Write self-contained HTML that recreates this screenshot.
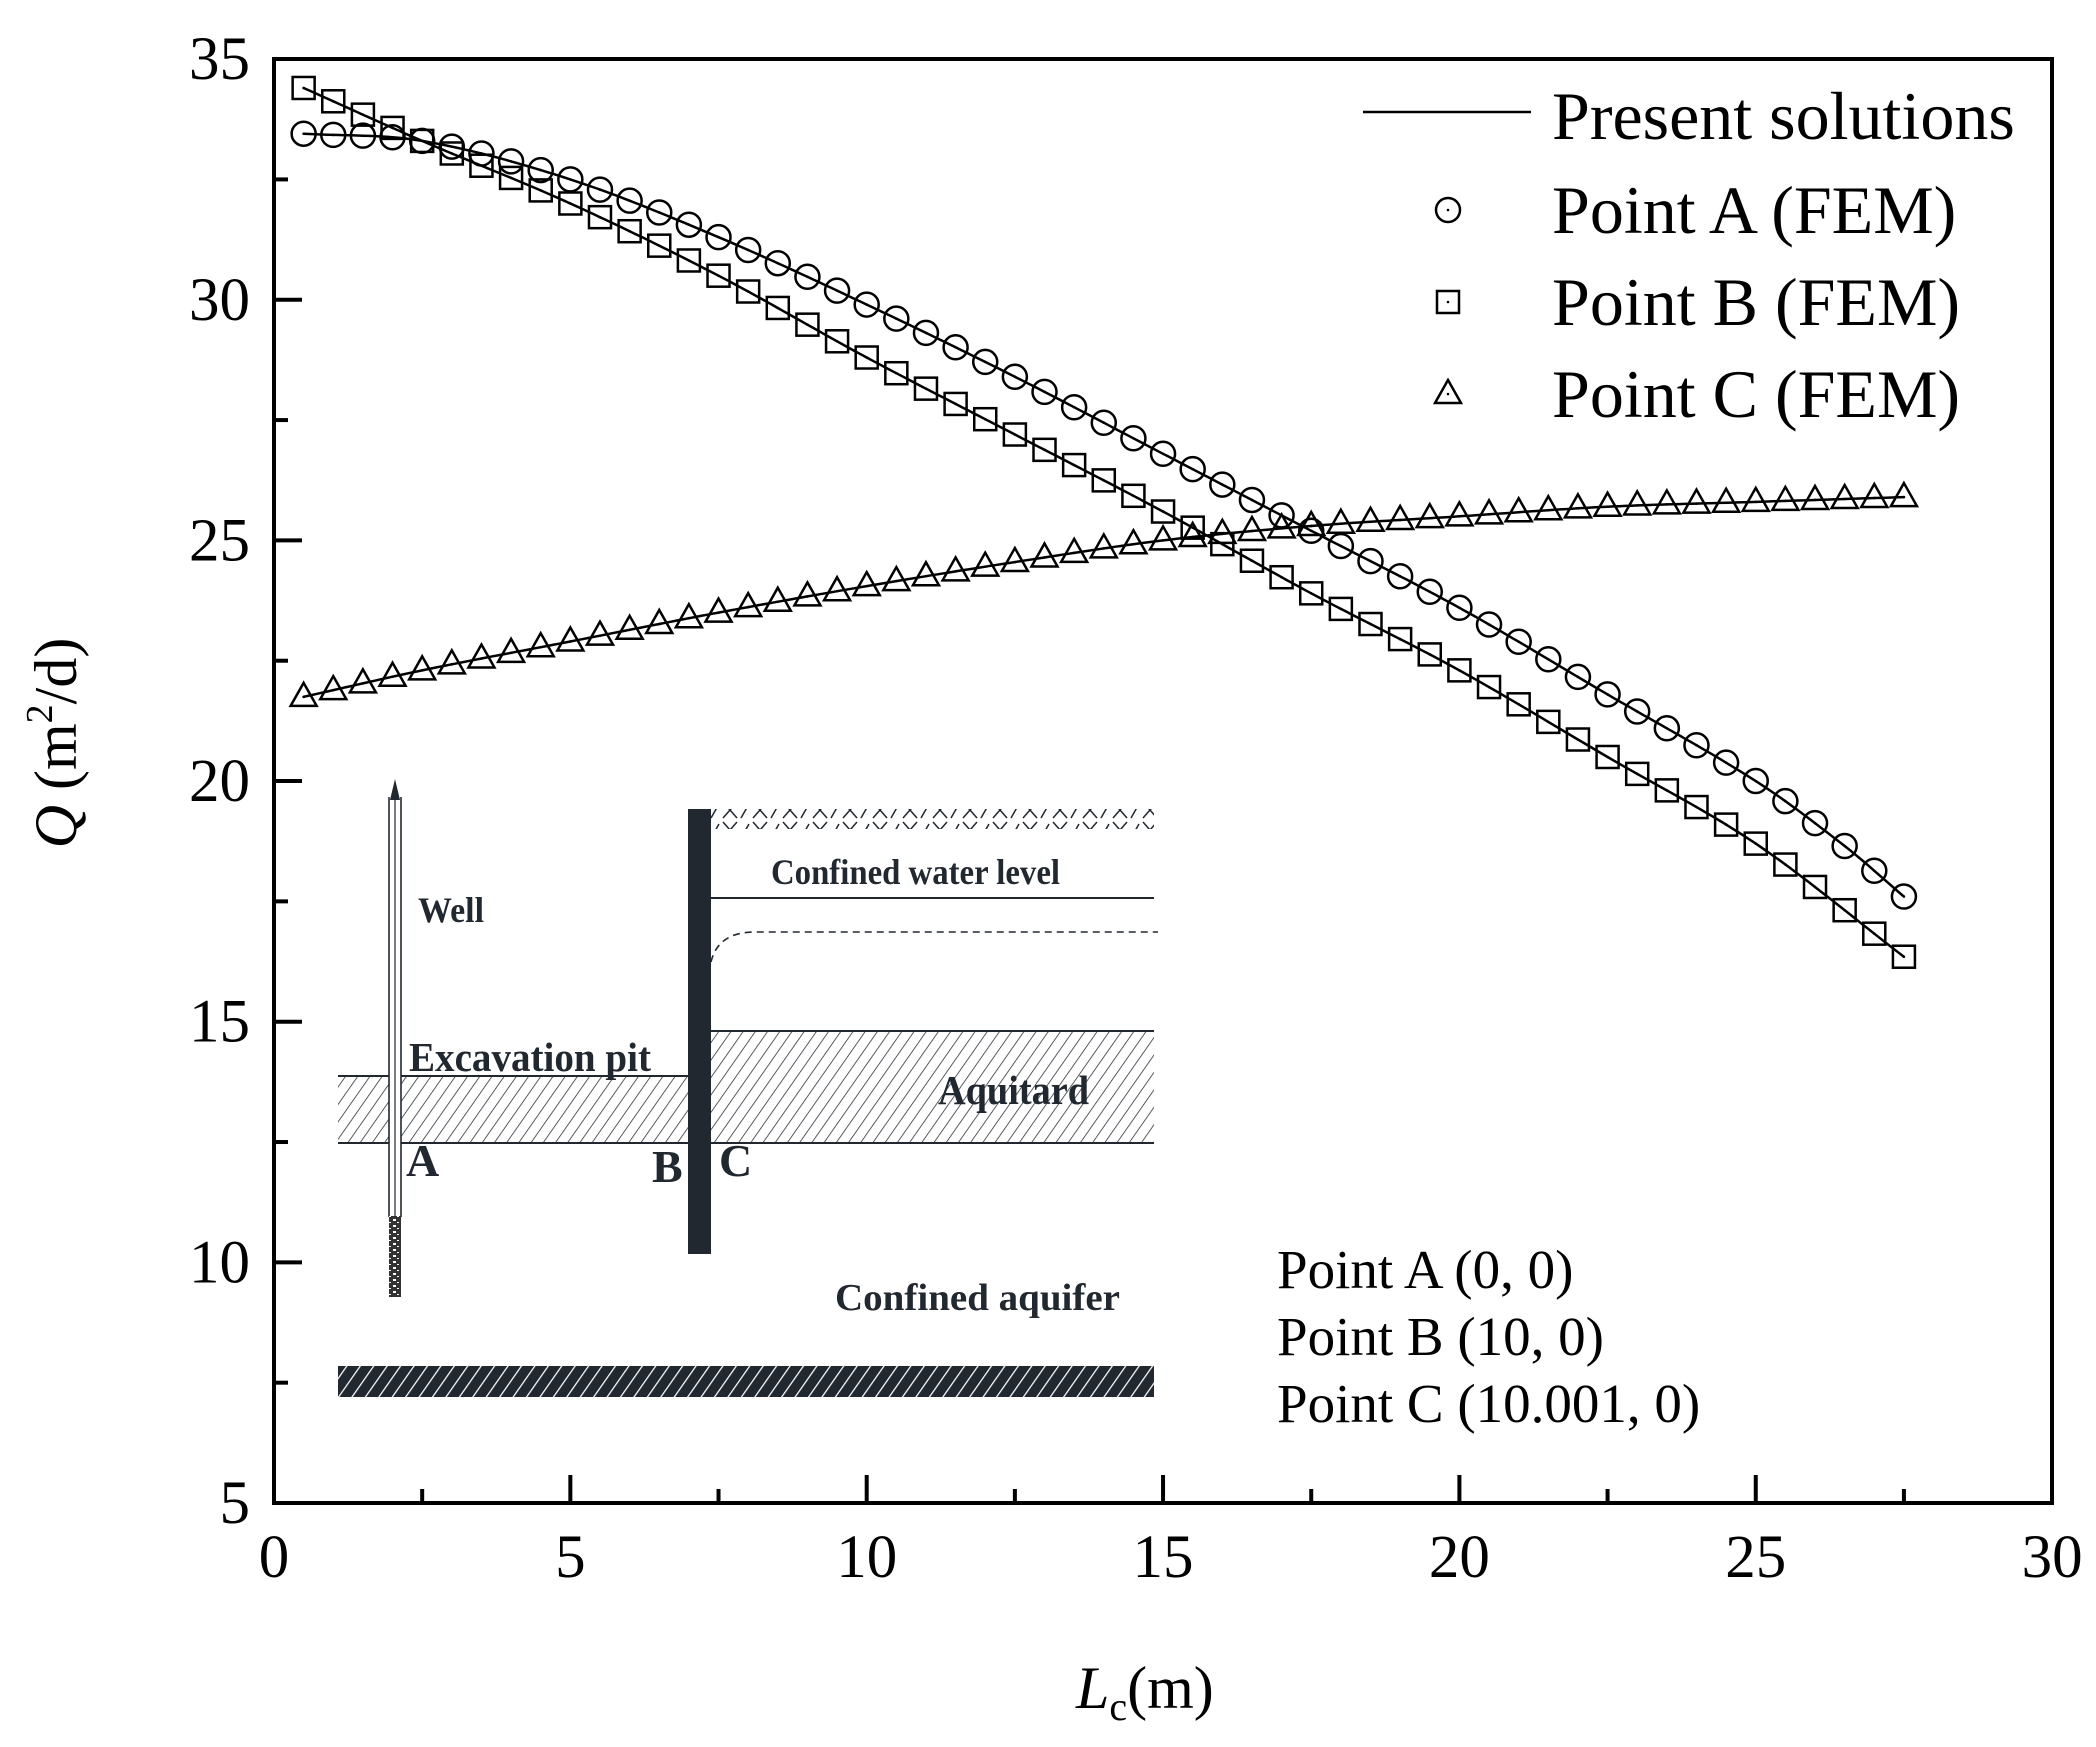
<!DOCTYPE html>
<html><head><meta charset="utf-8"><style>
html,body{margin:0;padding:0;background:#fff;}
svg{display:block;}
text{font-family:"Liberation Serif",serif;fill:#000;}
.b{font-weight:bold;fill:#222830;}
</style></head><body>
<svg id="s" width="2096" height="1747" viewBox="0 0 2096 1747" xmlns="http://www.w3.org/2000/svg">
<defs>
<pattern id="h" width="10" height="10" patternUnits="userSpaceOnUse" patternTransform="rotate(35)">
<line x1="0" y1="0" x2="0" y2="10" stroke="#222830" stroke-width="1.5"/>
</pattern>
<pattern id="hd" width="11" height="11" patternUnits="userSpaceOnUse" patternTransform="rotate(35)">
<rect width="11" height="11" fill="#222830"/>
<line x1="0" y1="0" x2="0" y2="11" stroke="#fff" stroke-width="2.5"/>
</pattern>
<pattern id="xx" width="30" height="20" patternUnits="userSpaceOnUse">
<path d="M3 2 L17 18 M17 2 L3 18 M21 18 L29 4" stroke="#222830" stroke-width="1.5" fill="none"/>
</pattern>
<pattern id="dots" width="8" height="6" patternUnits="userSpaceOnUse">
<rect width="8" height="6" fill="#333"/><rect x="1" y="1" width="3" height="2" fill="#fff"/><rect x="5" y="4" width="2" height="1" fill="#fff"/>
</pattern>
</defs>

<!-- inset diagram -->
<g>
<rect x="338" y="1076" width="350" height="67" fill="url(#h)"/>
<line x1="338" y1="1076" x2="688" y2="1076" stroke="#222830" stroke-width="2"/>
<rect x="711" y="1031" width="443" height="112" fill="url(#h)"/>
<line x1="711" y1="1031" x2="1154" y2="1031" stroke="#222830" stroke-width="2"/>
<line x1="338" y1="1143" x2="1154" y2="1143" stroke="#222830" stroke-width="2"/>
<rect x="711" y="809" width="443" height="20" fill="url(#xx)"/>
<line x1="711" y1="898" x2="1154" y2="898" stroke="#222830" stroke-width="2"/>
<path d="M711 962 Q718 932 755 932 L1158 932" stroke="#222830" stroke-width="1.6" fill="none" stroke-dasharray="7,5"/>
<rect x="338" y="1366" width="816" height="31" fill="url(#hd)"/>
<rect x="389" y="797" width="12" height="420" fill="#fff"/>
<line x1="389" y1="797" x2="389" y2="1217" stroke="#222830" stroke-width="1.6"/>
<line x1="401" y1="797" x2="401" y2="1217" stroke="#222830" stroke-width="1.6"/>
<line x1="395" y1="785" x2="395" y2="1217" stroke="#222830" stroke-width="1.2"/>
<path d="M390 800 L395 779 L400 800 Z" fill="#222830"/>
<rect x="389" y="1216" width="12" height="81" fill="url(#dots)"/>
<rect x="688" y="809" width="23" height="445" fill="#222830"/>
<text class="b" x="771" y="884" font-size="36" textLength="289" lengthAdjust="spacingAndGlyphs">Confined water level</text>
<text class="b" x="418" y="922" font-size="36" textLength="66" lengthAdjust="spacingAndGlyphs">Well</text>
<text class="b" x="409" y="1071" font-size="41" textLength="242" lengthAdjust="spacingAndGlyphs">Excavation pit</text>
<text class="b" x="938" y="1104" font-size="41" textLength="151" lengthAdjust="spacingAndGlyphs">Aquitard</text>
<text class="b" x="406" y="1176" font-size="46">A</text>
<text class="b" x="652" y="1182" font-size="46">B</text>
<text class="b" x="719" y="1176" font-size="46">C</text>
<text class="b" x="835" y="1310" font-size="38" textLength="285" lengthAdjust="spacingAndGlyphs">Confined aquifer</text>
</g>

<g id="data"></g>

<!-- axes -->
<path d="M274 59 L2052 59 L2052 1503 L274 1503 Z" fill="none" stroke="#000" stroke-width="4"/>
<g id="ticks" stroke="#000" stroke-width="4"></g>
<g id="labels" font-size="61"></g>

<text x="1277" y="1288" font-size="55">Point A (0, 0)</text>
<text x="1277" y="1355" font-size="55">Point B (10, 0)</text>
<text x="1277" y="1422" font-size="55">Point C (10.001, 0)</text>

<!-- legend -->
<line x1="1363" y1="112" x2="1531" y2="112" stroke="#000" stroke-width="2.5"/>
<text x="1552" y="139" font-size="68">Present solutions</text>
<text x="1552" y="233" font-size="68">Point A (FEM)</text>
<text x="1552" y="325" font-size="68">Point B (FEM)</text>
<text x="1552" y="417" font-size="68">Point C (FEM)</text>
<g id="leg"></g>

<text transform="translate(76,743) rotate(-90)" text-anchor="middle" font-size="60"><tspan font-style="italic">Q</tspan> (m<tspan dy="-24" font-size="38">2</tspan><tspan dy="24">/d)</tspan></text>
<text x="1076" y="1708" font-size="60"><tspan font-style="italic">L</tspan><tspan dy="12" font-size="40">c</tspan><tspan dy="-12">(m)</tspan></text>
</svg>
<script>
var NS="http://www.w3.org/2000/svg";
function X(l){return 274+l*59.27;}
function Y(q){return 1503-(q-5)*48.13;}
function el(p,t,a){var e=document.createElementNS(NS,t);for(var k in a)e.setAttribute(k,a[k]);p.appendChild(e);return e;}
var A=[[0.5,33.45],[2.5,33.3],[5,32.5],[7.5,31.3],[10,29.9],[12.5,28.4],[15,26.8],[17.5,25.2],[20,23.6],[22.5,21.8],[25,20.0],[26.5,18.65],[27.5,17.6]];
var B=[[0.5,34.4],[2.5,33.3],[5,32.0],[7.5,30.5],[10,28.8],[12.5,27.2],[15,25.6],[17.5,23.9],[20,22.3],[22.5,20.5],[25,18.7],[27.5,16.35]];
var C=[[0.5,21.75],[2.5,22.3],[5,22.9],[7.5,23.5],[10,24.05],[12.5,24.55],[15,25.0],[17.5,25.3],[20,25.5],[22.5,25.7],[25,25.8],[27.5,25.9]];
function f(K,x){
 var i=0;while(i<K.length-2&&x>K[i+1][0])i++;
 var p0=K[Math.max(i-1,0)],p1=K[i],p2=K[i+1],p3=K[Math.min(i+2,K.length-1)];
 var h=p2[0]-p1[0],t=(x-p1[0])/h;
 var m1=(p2[1]-p0[1])/(p2[0]-p0[0])*h,m2=(p3[1]-p1[1])/(p3[0]-p1[0])*h;
 var t2=t*t,t3=t2*t;
 return (2*t3-3*t2+1)*p1[1]+(t3-2*t2+t)*m1+(-2*t3+3*t2)*p2[1]+(t3-t2)*m2;
}
var g=document.getElementById("data");
[A,B,C].forEach(function(K){
 var d="";for(var x=0.5;x<=27.5001;x+=0.1){d+=(d?"L":"M")+X(x).toFixed(1)+" "+Y(f(K,x)).toFixed(1);}
 el(g,"path",{d:d,fill:"none",stroke:"#000","stroke-width":2.5});
});
function mark(p,type,cx,cy){
 var a={fill:"none",stroke:"#000","stroke-width":2.5};
 if(type==0){a.cx=cx;a.cy=cy;a.r=12;el(p,"circle",a);}
 else if(type==1){a.x=cx-11;a.y=cy-11;a.width=22;a.height=22;el(p,"rect",a);}
 else {a.d="M"+cx+" "+(cy-14)+" L"+(cx+13)+" "+(cy+9)+" L"+(cx-13)+" "+(cy+9)+" Z";el(p,"path",a);}
 el(p,"circle",{cx:cx,cy:cy,r:1.3,fill:"#000"});
}
[A,B,C].forEach(function(K,j){
 for(var i=1;i<=55;i++){var x=i*0.5;mark(g,j,X(x),Y(f(K,x)));}
});
var lg=document.getElementById("leg");
mark(lg,0,1448,210);mark(lg,1,1448,302);mark(lg,2,1448,394);
var tk=document.getElementById("ticks"),lb=document.getElementById("labels");
for(var v=0;v<=30;v+=2.5){var x=X(v),L=(v%5==0)?28:14;
 if(v>0&&v<30)el(tk,"line",{x1:x,y1:1503,x2:x,y2:1503-L});
 if(v%5==0){var t=el(lb,"text",{x:x,y:1577,"text-anchor":"middle"});t.textContent=v;}}
for(var q=5;q<=35;q+=2.5){var y=Y(q),L=(q%5==0)?28:14;
 if(q>5&&q<35)el(tk,"line",{x1:274,y1:y,x2:274+L,y2:y});
 if(q%5==0){var t=el(lb,"text",{x:250,y:y+20,"text-anchor":"end"});t.textContent=q;}}
</script>
</body></html>
